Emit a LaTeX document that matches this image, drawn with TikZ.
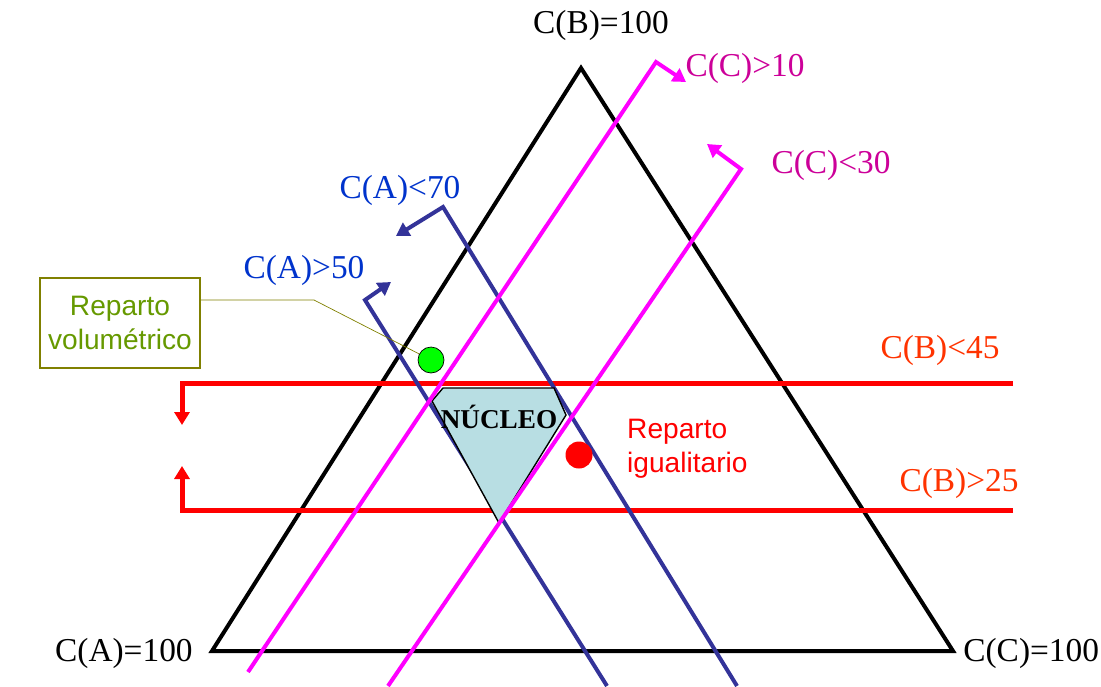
\documentclass[tikz,border=0pt]{standalone}
\usepackage{fontspec}
\setmainfont{Liberation Serif}
\setsansfont{Liberation Sans}
\usetikzlibrary{arrows.meta}
\definecolor{navyline}{RGB}{51,51,153}
\definecolor{bluetext}{RGB}{0,51,204}
\definecolor{magline}{RGB}{255,0,255}
\definecolor{magtext}{RGB}{204,0,153}
\definecolor{redtext}{RGB}{255,51,0}
\definecolor{olivetext}{RGB}{102,153,0}
\definecolor{olivebox}{RGB}{128,128,0}
\definecolor{nucfill}{RGB}{184,222,227}
\begin{document}
\begin{tikzpicture}[x=0.02cm, y=-0.02cm, >={Triangle[length=0.26cm,width=0.3cm]},
  lbl/.style={font=\fontsize{19}{21}\selectfont, inner sep=0pt},
  txt/.style={font=\sffamily\fontsize{16}{19.5}\selectfont, align=center}]
\useasboundingbox (0,0) rectangle (1101,686);
% triangle
\draw[line width=0.08cm, line join=miter] (212,651) -- (581,68) -- (953,651) -- cycle;
\node[lbl] (cb) at (601,25) {C(B)=100};
\node[lbl, anchor=east] (ca) at (193,653) {C(A)=100};
\node[lbl, anchor=west] (cc) at (963,653) {C(C)=100};
% C(B) limits
\draw[red, line width=0.1cm, ->] (1013,383) -- (182,383) -- (182,425);
\draw[red, line width=0.1cm, ->] (1013,510) -- (182,510) -- (182,466);
\node[lbl, text=redtext] (b45) at (940,350) {C(B)<45};
\node[lbl, text=redtext] (b25) at (959,483) {C(B)>25};
% C(A) limits
\draw[navyline, line width=0.08cm, ->] (737,686) -- (443,207) -- (396,236);
\draw[navyline, line width=0.08cm, ->] (607,686) -- (365,300) -- (391,282);
\node[lbl, text=bluetext] (a70) at (400,190) {C(A)<70};
\node[lbl, text=bluetext] (a50) at (304,270) {C(A)>50};
% nucleo
\draw[fill=nucfill, thick] (432,401) -- (443,388) -- (554,388) -- (566,415) -- (499,523) -- cycle;
\node[font=\bfseries\fontsize{15.5}{18}\selectfont] (nuc) at (499,417) {NÚCLEO};
% C(C) limits
\draw[magline, line width=0.08cm, ->] (248,672) -- (656,62) -- (686,82);
\draw[magline, line width=0.08cm, ->] (388,686) -- (741,169) -- (707,144);
\node[lbl, text=magtext] (c10) at (745,68) {C(C)>10};
\node[lbl, text=magtext] (c30) at (831,165) {C(C)<30};
% repartos
\node[circle, fill=green, draw, minimum size=0.52cm, inner sep=0pt] (vol) at (431,360) {};
\node[circle, fill=red, minimum size=0.54cm, inner sep=0pt] (igu) at (579,455) {};
\node[txt, text=red, align=left, anchor=west] (igutxt) at (621,449) {Reparto\\igualitario};
\node[txt, text=olivetext, draw=olivebox, thick, minimum width=3.2cm, minimum height=1.8cm] (voltxt) at (120,323) {Reparto\\volumétrico};
\draw[olivebox] (voltxt.east |- 0,300) -- (314,300) -- (vol);
\end{tikzpicture}
\end{document}
